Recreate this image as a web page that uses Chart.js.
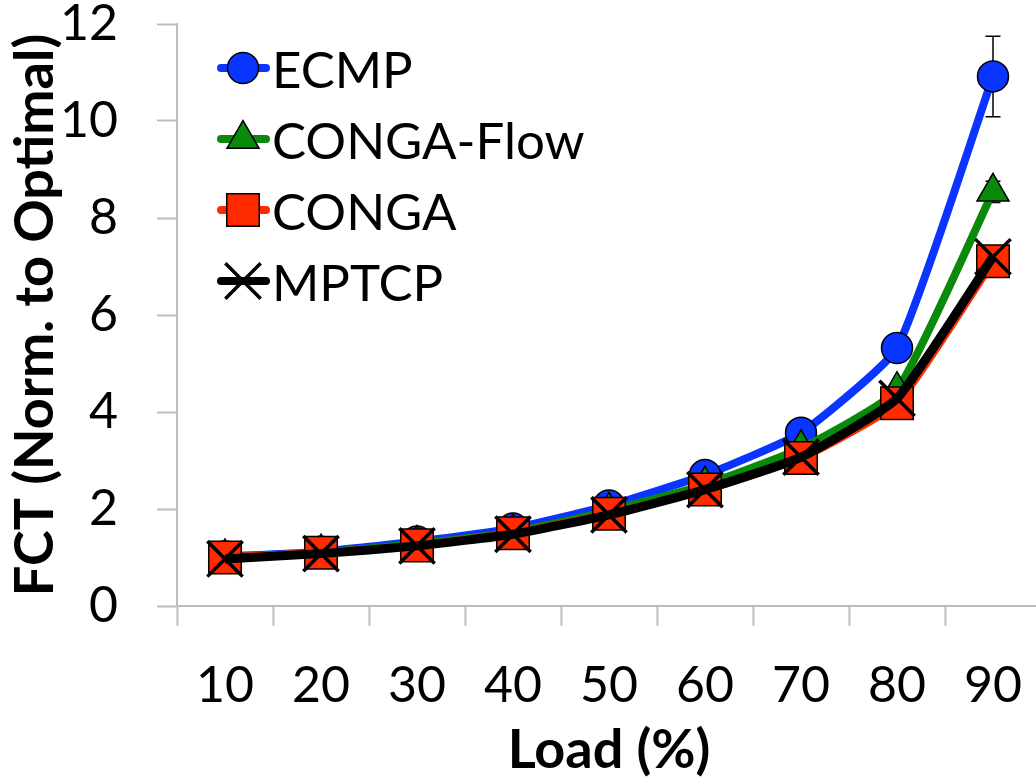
<!DOCTYPE html>
<html>
<head>
<meta charset="utf-8">
<script src="https://cdn.jsdelivr.net/npm/chart.js@4.4.1/dist/chart.umd.min.js"></script>
<style>
  html, body { margin: 0; padding: 0; background: #fff; overflow: hidden; }
  #wrap { width: 1044px; height: 778px; }
</style>
</head>
<body>
<div id="wrap"><canvas id="fctChart"></canvas></div>
<script>
// Load levels on the x axis
const loads = ['10', '20', '30', '40', '50', '60', '70', '80', '90'];

// FCT normalised to optimal
const ecmp      = [1.02, 1.12, 1.33, 1.60, 2.07, 2.70, 3.57, 5.32, 10.92];
const congaFlow = [1.00, 1.10, 1.28, 1.52, 1.96, 2.50, 3.25, 4.45, 8.54];
const conga     = [1.00, 1.10, 1.25, 1.50, 1.90, 2.40, 3.05, 4.18, 7.11];
const mptcp     = [0.97, 1.08, 1.24, 1.48, 1.88, 2.40, 3.07, 4.28, 7.20];

// error bars (half width), only visible at high load
const ecmpErr      = [0, 0, 0, 0, 0, 0, 0, 0, 0.83];
const congaFlowErr = [0, 0, 0, 0, 0, 0, 0, 0, 0.22];

const yTicks = [0, 2, 4, 6, 8, 10, 12];

const FONT = 'Lato, "Open Sans", sans-serif';
const AXIS_GRAY = '#bdbdbd';

const series = [
  { label: 'ECMP', data: ecmp, err: ecmpErr, color: '#0a34ff', fill: '#0a34ff', style: 'circle', radius: 15.5, order: 4 },
  { label: 'CONGA-Flow', data: congaFlow, err: congaFlowErr, color: '#0a8a0a', fill: '#0a8a0a', style: 'triangle', radius: 18.5, order: 3 },
  { label: 'CONGA', data: conga, err: null, color: '#ff2a00', fill: '#ff2a00', style: 'rect', radius: 23, order: 2 },
  { label: 'MPTCP', data: mptcp, err: null, color: '#000000', fill: '#000000', style: 'crossRot', radius: 25, order: 1 },
];

// error bars, drawn under the lines and markers
const errorBars = {
  id: 'errorBars',
  beforeDatasetsDraw(chart) {
    const ctx = chart.ctx;
    const y = chart.scales.y;
    ctx.save();
    ctx.strokeStyle = '#000';
    ctx.lineWidth = 1.5;
    chart.data.datasets.forEach((ds, i) => {
      const err = series[i].err;
      if (!err) return;
      const meta = chart.getDatasetMeta(i);
      meta.data.forEach((pt, j) => {
        if (!err[j]) return;
        const top = y.getPixelForValue(ds.data[j] + err[j]);
        const bot = y.getPixelForValue(ds.data[j] - err[j]);
        ctx.beginPath();
        ctx.moveTo(pt.x, top); ctx.lineTo(pt.x, bot);
        ctx.moveTo(pt.x - 7.5, top); ctx.lineTo(pt.x + 7.5, top);
        ctx.moveTo(pt.x - 7.5, bot); ctx.lineTo(pt.x + 7.5, bot);
        ctx.stroke();
      });
    });
    ctx.restore();
  }
};

// legend inside the plot, one item per row
const insideLegend = {
  id: 'insideLegend',
  afterDraw(chart) {
    const ctx = chart.ctx;
    const x0 = 217, x1 = 270, mx = 243;
    const rows = [68, 139, 210, 281];
    ctx.save();
    series.forEach((s, i) => {
      const yy = rows[i];
      ctx.strokeStyle = s.color;
      ctx.lineWidth = 8;
      ctx.lineCap = 'round';
      ctx.beginPath();
      ctx.moveTo(x0 + 4, yy); ctx.lineTo(x1 - 4, yy);
      ctx.stroke();
      ctx.lineCap = 'butt';
      ctx.fillStyle = s.fill;
      ctx.strokeStyle = '#000';
      ctx.lineWidth = s.style === 'crossRot' ? 3.5 : 1.5;
      Chart.helpers.drawPoint(ctx, { pointStyle: s.style, radius: s.radius, rotation: 0, borderWidth: ctx.lineWidth }, mx, yy);
      ctx.fillStyle = '#000';
      ctx.font = '51px ' + FONT;
      ctx.textAlign = 'left';
      ctx.textBaseline = 'middle';
      ctx.fillText(s.label, 272, yy + 4);
    });
    ctx.restore();
  }
};

const ctx = document.getElementById('fctChart').getContext('2d');
new Chart(ctx, {
  type: 'line',
  data: {
    labels: loads,
    datasets: series.map(s => ({
      label: s.label,
      data: s.data,
      order: s.order,
      borderColor: s.color,
      borderWidth: s.style === 'crossRot' ? 9 : 8,
      backgroundColor: s.fill,
      tension: 0.15,
      pointStyle: s.style,
      pointRadius: s.radius,
      pointHoverRadius: s.radius,
      pointBackgroundColor: s.fill,
      pointBorderColor: '#000',
      pointBorderWidth: s.style === 'crossRot' ? 3.5 : 1.5,
      fill: false,
      clip: false,
    }))
  },
  options: {
    responsive: true,
    maintainAspectRatio: false,
    animation: false,
    layout: { autoPadding: false, padding: { top: 24, right: 3, left: 0, bottom: 0 } },
    plugins: {
      legend: { display: false },
      tooltip: { enabled: false },
    },
    scales: {
      x: {
        type: 'category',
        offset: true,
        grid: {
          offset: true,
          drawOnChartArea: false,
          drawTicks: true,
          tickLength: 20,
          tickWidth: 2,
          tickColor: AXIS_GRAY,
        },
        border: { color: AXIS_GRAY, width: 2 },
        ticks: {
          color: '#000',
          padding: 30,
          font: { family: FONT, size: 50 },
          maxRotation: 0,
        },
        title: {
          display: true,
          text: 'Load (%)',
          color: '#000',
          font: { family: FONT, size: 54, weight: 'bold', lineHeight: 1 },
          padding: { top: 0, bottom: 0 },
        },
        afterFit(scale) {
          scale.height = 172;
          scale.paddingLeft = 0;
          scale.paddingRight = 0;
        },
      },
      y: {
        min: 0,
        max: 12,
        afterBuildTicks(scale) { scale.ticks = yTicks.map(v => ({ value: v })); },
        grid: {
          drawOnChartArea: false,
          drawTicks: true,
          tickLength: 20,
          tickWidth: 2,
          tickColor: AXIS_GRAY,
        },
        border: { color: AXIS_GRAY, width: 2 },
        ticks: {
          color: '#000',
          padding: 39,
          font: { family: FONT, size: 50 },
        },
        title: {
          display: true,
          text: 'FCT (Norm. to Optimal)',
          color: '#000',
          font: { family: FONT, size: 54, weight: 'bold', lineHeight: 1 },
          padding: { top: 9, bottom: 0 },
        },
        afterFit(scale) {
          scale.width = 177;
          scale.paddingTop = 0;
          scale.paddingBottom = 0;
        },
      }
    }
  },
  plugins: [errorBars, insideLegend]
});
</script>
</body>
</html>
